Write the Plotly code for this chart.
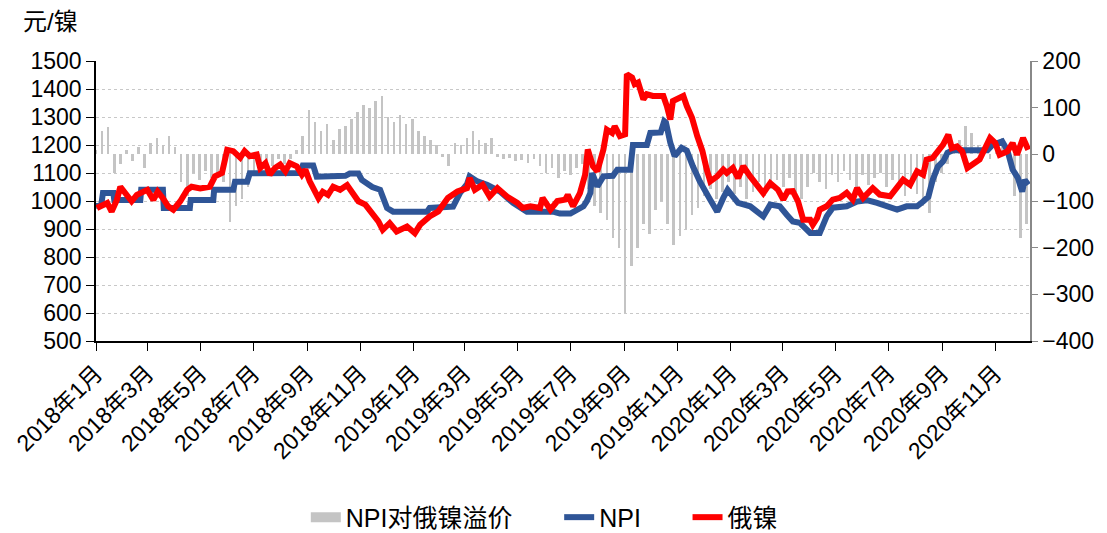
import pandas as pd
import plotly.graph_objects as go

# NPI price (元/镍), step-like series
npi_dates = [
    "2018-01-01", "2018-01-07", "2018-01-09", "2018-01-21", "2018-01-22", "2018-02-21", "2018-02-22",
    "2018-03-19", "2018-03-20", "2018-04-19", "2018-04-20", "2018-05-16", "2018-05-17", "2018-06-08",
    "2018-06-10", "2018-06-24", "2018-06-27", "2018-08-24", "2018-08-27", "2018-09-08", "2018-09-12",
    "2018-10-15", "2018-10-20", "2018-10-30", "2018-11-03", "2018-11-15", "2018-11-24", "2018-12-02",
    "2018-12-09", "2019-01-17", "2019-01-20", "2019-02-16", "2019-02-24", "2019-03-04", "2019-03-07",
    "2019-03-16", "2019-03-27", "2019-04-11", "2019-04-26", "2019-05-12", "2019-06-11", "2019-06-19",
    "2019-07-01", "2019-07-09", "2019-07-16", "2019-07-20", "2019-07-24", "2019-07-26", "2019-08-01",
    "2019-08-08", "2019-08-19", "2019-08-24", "2019-09-08", "2019-09-11", "2019-09-27", "2019-10-01",
    "2019-10-13", "2019-10-17", "2019-10-19", "2019-10-24", "2019-10-29", "2019-11-06", "2019-11-12",
    "2019-11-19", "2019-11-27", "2019-12-09", "2019-12-17", "2019-12-24", "2019-12-29", "2020-01-04",
    "2020-01-10", "2020-01-24", "2020-02-08", "2020-02-16", "2020-02-27", "2020-03-06", "2020-03-13",
    "2020-03-21", "2020-03-27", "2020-04-02", "2020-04-13", "2020-04-21", "2020-04-28", "2020-05-14",
    "2020-05-26", "2020-06-06", "2020-06-18", "2020-06-29", "2020-07-11", "2020-07-22", "2020-08-03",
    "2020-08-10", "2020-08-16", "2020-08-21", "2020-08-27", "2020-09-02", "2020-09-07", "2020-09-13",
    "2020-10-23", "2020-10-29", "2020-11-09", "2020-11-15", "2020-11-21", "2020-11-27", "2020-12-02",
    "2020-12-05", "2020-12-09",
]
npi_values = [
    982, 985, 1029, 1029, 1004, 1004, 1040,
    1040, 975, 975, 1004, 1004, 1040, 1040,
    1069, 1069, 1099, 1100, 1127, 1127, 1087,
    1090, 1098, 1098, 1075, 1050, 1040, 975,
    962, 962, 975, 980, 1029, 1060, 1088,
    1070, 1058, 1034, 993, 962, 962, 955,
    955, 969, 981, 1000, 1029, 1100, 1052,
    1088, 1090, 1112, 1112, 1200, 1200, 1243,
    1245, 1285, 1280, 1208, 1160, 1190, 1180,
    1124, 1070, 1004, 962, 1011, 1040, 1016,
    993, 981, 945, 987, 981, 951, 927,
    922, 904, 886, 886, 945, 976, 981,
    998, 1003, 993, 981, 969, 981, 981,
    998, 1015, 1075, 1123, 1141, 1172, 1181,
    1181, 1201, 1213, 1181, 1112, 1083, 1034,
    1075, 1058,
]

# 俄镍 price (元/镍)
rus_dates = [
    "2018-01-02", "2018-01-14", "2018-01-19", "2018-01-25", "2018-01-29", "2018-02-03", "2018-02-11",
    "2018-02-17", "2018-02-24", "2018-03-01", "2018-03-08", "2018-03-13", "2018-03-19", "2018-03-25",
    "2018-03-31", "2018-04-08", "2018-04-16", "2018-04-21", "2018-05-01", "2018-05-12", "2018-05-18",
    "2018-05-26", "2018-06-01", "2018-06-08", "2018-06-16", "2018-06-21", "2018-06-27", "2018-07-05",
    "2018-07-09", "2018-07-15", "2018-07-20", "2018-07-26", "2018-08-01", "2018-08-07", "2018-08-12",
    "2018-08-20", "2018-08-26", "2018-08-30", "2018-09-04", "2018-09-10", "2018-09-14", "2018-09-19",
    "2018-09-25", "2018-10-01", "2018-10-09", "2018-10-17", "2018-10-23", "2018-10-30", "2018-11-07",
    "2018-11-15", "2018-11-22", "2018-11-27", "2018-12-05", "2018-12-13", "2018-12-25", "2019-01-03",
    "2019-01-09", "2019-01-20", "2019-01-30", "2019-02-10", "2019-02-21", "2019-03-04", "2019-03-07",
    "2019-03-13", "2019-03-22", "2019-03-30", "2019-04-08", "2019-04-19", "2019-05-01", "2019-05-07",
    "2019-05-16", "2019-05-27", "2019-05-30", "2019-06-08", "2019-06-16", "2019-06-25", "2019-06-28",
    "2019-07-04", "2019-07-12", "2019-07-18", "2019-07-21", "2019-07-27", "2019-08-01", "2019-08-08",
    "2019-08-12", "2019-08-18", "2019-08-21", "2019-08-27", "2019-09-02", "2019-09-04", "2019-09-10",
    "2019-09-13", "2019-09-17", "2019-09-23", "2019-09-27", "2019-10-04", "2019-10-16", "2019-10-20",
    "2019-10-24", "2019-10-27", "2019-11-04", "2019-11-08", "2019-11-12", "2019-11-18", "2019-11-24",
    "2019-11-30", "2019-12-05", "2019-12-09", "2019-12-17", "2019-12-24", "2019-12-28", "2020-01-04",
    "2020-01-10", "2020-01-16", "2020-01-24", "2020-02-01", "2020-02-08", "2020-02-16", "2020-02-25",
    "2020-03-02", "2020-03-07", "2020-03-13", "2020-03-19", "2020-03-25", "2020-04-02", "2020-04-05",
    "2020-04-10", "2020-04-13", "2020-04-21", "2020-04-28", "2020-05-06", "2020-05-14", "2020-05-21",
    "2020-05-26", "2020-06-02", "2020-06-13", "2020-06-21", "2020-07-03", "2020-07-11", "2020-07-18",
    "2020-07-26", "2020-08-03", "2020-08-10", "2020-08-14", "2020-08-21", "2020-08-27", "2020-09-02",
    "2020-09-08", "2020-09-12", "2020-09-18", "2020-09-24", "2020-09-30", "2020-10-06", "2020-10-14",
    "2020-10-26", "2020-11-01", "2020-11-06", "2020-11-15", "2020-11-21", "2020-11-26", "2020-12-03",
    "2020-12-09",
]
rus_values = [
    975, 993, 962, 1004, 1051, 1033, 999,
    1022, 1033, 1040, 1004, 1033, 1010, 981,
    969, 999, 1040, 1051, 1045, 1051, 1088,
    1100, 1183, 1178, 1155, 1178, 1160, 1166,
    1118, 1135, 1094, 1118, 1130, 1106, 1135,
    1124, 1094, 1112, 1070, 1029, 1010, 1033,
    1022, 1051, 1040, 1057, 1029, 999, 987,
    957, 927, 897, 921, 891, 909, 885,
    915, 945, 963, 1011, 1034, 1046, 1082,
    1040, 1058, 1016, 1046, 1016, 993, 975,
    981, 975, 1011, 969, 1000, 1005, 1022,
    981, 1028, 1094, 1184, 1124, 1106, 1184,
    1255, 1243, 1267, 1232, 1238, 1453, 1441,
    1417, 1423, 1363, 1381, 1375, 1375, 1339,
    1291, 1357, 1369, 1375, 1339, 1297, 1232,
    1178, 1112, 1070, 1088, 1112, 1100, 1118,
    1082, 1124, 1088, 1052, 1028, 1064, 1040,
    1005, 1034, 1035, 999, 933, 933, 915,
    939, 969, 981, 1005, 1011, 1029, 1005,
    1046, 1011, 1046, 1023, 1017, 1052, 1076,
    1058, 1106, 1094, 1148, 1154, 1177, 1201,
    1237, 1189, 1195, 1177, 1118, 1130, 1148,
    1225, 1207, 1165, 1177, 1207, 1165, 1225,
    1183,
]

# NPI对俄镍溢价 (right axis), weekly readings starting 2018-01-01
premium_values = [
    10, 50, 58, -40, -20, 10, -15, 15, -30, 25, 35, 20, 40, 15,
    -60, -90, -40, -55, -35, -50, -40, -60, -145, -110, -95, -70, -45, -30,
    -15, -25, -10, -20, -10, 10, 40, 95, 70, 50, 65, 30, 55, 60,
    75, 90, 105, 100, 115, 125, 80, 70, 85, 65, 75, 50, 40, 30,
    20, -5, -25, 25, 20, 35, 50, 30, 25, 35, -5, -10, -8, -15,
    -12, -18, -10, -25, -40, -30, -50, -35, -45, -30, -20, -75, -110, -125,
    -140, -180, -200, -340, -240, -200, -150, -170, -120, -100, -150, -195, -175, -160,
    -130, -115, -90, -75, -95, -80, -60, -85, -70, -95, -80, -60, -90, -75,
    -55, -70, -50, -80, -95, -70, -40, -60, -75, -45, -60, -35, -55, -80,
    -45, -65, -50, -40, -70, -55, -60, -90, -75, -85, -110, -125, -60, -40,
    -20, 10, 30, 60, 45, 20, 5, -10, 15, 35, 10, -90, -180, -150,
]
premium_dates = pd.date_range("2018-01-01", periods=len(premium_values), freq="7D")

tick_dates = pd.date_range("2018-01-01", "2020-11-01", freq="2MS")
tick_labels = [f"{d.year}年{d.month}月" for d in tick_dates]

FONT = "Liberation Sans, Noto Sans CJK SC, sans-serif"
BAR_GRAY = "#c4c4c4"
PAD = "\u00a0" * 6  # extra room between legend entries

fig = go.Figure()

# bars on the base axis (drawn underneath), lines on the overlaying axis
fig.add_trace(go.Bar(
    x=premium_dates,
    y=premium_values,
    name="NPI对俄镍溢价",
    marker=dict(color=BAR_GRAY, line=dict(width=0)),
    width=3 * 86400000,
    yaxis="y",
    showlegend=False,
))
# legend-only entry so the swatch is a wide grey block like the original
fig.add_trace(go.Scatter(
    x=[None], y=[None],
    mode="lines",
    name="NPI对俄镍溢价" + PAD,
    line=dict(color=BAR_GRAY, width=20),
    yaxis="y",
))
fig.add_trace(go.Scatter(
    x=npi_dates,
    y=npi_values,
    mode="lines",
    name="NPI" + PAD,
    line=dict(color="#2f5597", width=6),
    yaxis="y2",
))
fig.add_trace(go.Scatter(
    x=rus_dates,
    y=rus_values,
    mode="lines",
    name="俄镍",
    line=dict(color="#ff0000", width=6),
    yaxis="y2",
))

fig.update_layout(
    width=1107,
    height=533,
    margin=dict(l=96, r=77, t=61, b=192, autoexpand=False),
    paper_bgcolor="white",
    plot_bgcolor="white",
    font=dict(family=FONT, size=23, color="black"),
    bargap=0,
    showlegend=True,
    legend=dict(
        orientation="h",
        x=0.48, xanchor="center",
        y=-0.63, yanchor="middle",
        font=dict(size=25),
        traceorder="normal",
    ),
    xaxis=dict(
        type="date",
        range=["2018-01-01", "2020-12-11"],
        tickvals=tick_dates,
        ticktext=tick_labels,
        tickangle=-45,
        ticks="outside",
        ticklen=8,
        tickcolor="black",
        showline=True,
        linecolor="black",
        linewidth=1.5,
        showgrid=False,
        zeroline=False,
        automargin=False,
        tickfont=dict(size=23),
    ),
    yaxis=dict(
        side="right",
        range=[-400, 200],
        dtick=100,
        ticks="outside",
        ticklen=6,
        tickcolor="#888888",
        showline=True,
        linecolor="#888888",
        linewidth=1.5,
        showgrid=False,
        zeroline=False,
        automargin=False,
        tickfont=dict(size=23),
    ),
    yaxis2=dict(
        side="left",
        overlaying="y",
        range=[500, 1500],
        dtick=100,
        ticks="outside",
        ticklen=8,
        tickcolor="black",
        showline=True,
        linecolor="black",
        linewidth=1.5,
        showgrid=True,
        gridcolor="#c8c8c8",
        griddash="dot",
        gridwidth=1,
        zeroline=False,
        automargin=False,
        tickfont=dict(size=23),
    ),
    annotations=[dict(
        text="元/镍",
        xref="paper", yref="paper",
        x=-0.08, y=1.14,
        xanchor="left", yanchor="middle",
        showarrow=False,
        font=dict(size=24),
    )],
)

# page body margin would otherwise offset the figure by 8px
fig.write_html(
    "out.html",
    config={"displayModeBar": False},
    post_script="document.body.style.margin='0';",
)
